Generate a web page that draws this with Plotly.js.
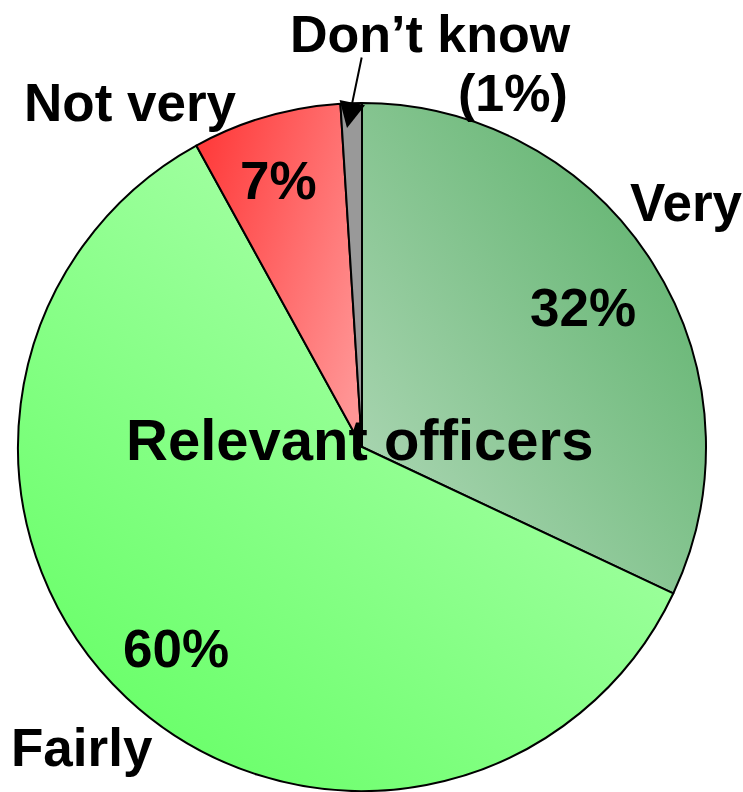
<!DOCTYPE html>
<html>
<head>
<meta charset="utf-8">
<script src="https://cdn.plot.ly/plotly-3.0.1.min.js"></script>
<style>html,body{margin:0;padding:0;background:#fff;}#chart{width:743px;height:792px;}</style>
</head>
<body>
<div id="chart"></div>
<script>
var categories = ["Very", "Fairly", "Not very", "Don\u2019t know"];
var values = [32, 60, 7, 1];
var percentLabels = ["32%", "60%", "7%", "(1%)"];
var centerTitle = "Relevant officers";
var sliceColors = ["#86c490", "#90ff88", "#ff6a6a", "#9a9a9a"];

var W = 743, H = 792;
function px(x){ return x / W; }
function py(y){ return (H - y) / H; }

var FONT = "Liberation Sans, Arial, sans-serif";
var bold = function(size){ return {family: FONT, size: size, color: "#000", weight: 700}; };

var trace = {
  type: "pie",
  labels: categories,
  values: values,
  sort: false,
  direction: "clockwise",
  rotation: 0,
  textinfo: "none",
  hoverinfo: "label+percent",
  marker: {colors: sliceColors, line: {color: "#000", width: 2}},
  domain: {x: [px(18), px(706)], y: [py(791), py(103)]},
  showlegend: false
};

var annotations = [
  {x: px(686), y: py(203), text: "<b>" + categories[0] + "</b>"},
  {x: px(82), y: py(747), text: "<b>" + categories[1] + "</b>"},
  {x: px(130), y: py(102), text: "<b>" + categories[2] + "</b>"},
  {x: px(430), y: py(34), text: "<b>" + categories[3] + "</b>", font: bold(52)},
  {x: px(583), y: py(308), text: "<b>" + percentLabels[0] + "</b>"},
  {x: px(176), y: py(648), text: "<b>" + percentLabels[1] + "</b>"},
  {x: px(278), y: py(180), text: "<b>" + percentLabels[2] + "</b>"},
  {x: px(570), y: py(93), xanchor: "right", text: "<b>" + percentLabels[3] + "</b>", font: bold(52)}
].map(function(a){
  return Object.assign({xref: "paper", yref: "paper", showarrow: false, xanchor: "center", yanchor: "middle", font: bold(53)}, a);
});
annotations.push({x: px(359), y: py(439), xref: "paper", yref: "paper", showarrow: false,
  xanchor: "center", yanchor: "middle", text: "<b>" + centerTitle + "</b>", font: bold(58)});
annotations.push({x: px(347), y: py(128), xref: "paper", yref: "paper", showarrow: true,
  text: "", ax: 15, ay: -72, arrowhead: 2, arrowsize: 2.6, arrowwidth: 2, arrowcolor: "#000", standoff: 0});

var layout = {
  width: W, height: H,
  margin: {l: 0, r: 0, t: 0, b: 0},
  paper_bgcolor: "#fff",
  plot_bgcolor: "#fff",
  annotations: annotations
};

Plotly.newPlot("chart", [trace], layout, {displayModeBar: false, staticPlot: true}).then(function(){
  var svg = document.querySelector("#chart .main-svg");
  var defs = svg.querySelector("defs");
  var NS = "http://www.w3.org/2000/svg";
  var grads = [
    {id: "gVery", x1: 0, y1: 1, x2: 1, y2: 0, stops: ["#b4dabb", "#55ae64"]},
    {id: "gFairly", x1: 0, y1: 0.85, x2: 0.7, y2: 0, stops: ["#66ff66", "#b0ffb0"]},
    {id: "gNot", x1: 0, y1: 0.2, x2: 1, y2: 0.8, stops: ["#ff3c3c", "#ff9696"]},
    {id: "gDk", x1: 0, y1: 0, x2: 1, y2: 0, stops: ["#999999", "#999999"]}
  ];
  grads.forEach(function(g){
    var lg = document.createElementNS(NS, "linearGradient");
    lg.setAttribute("id", g.id);
    ["x1","y1","x2","y2"].forEach(function(k){ lg.setAttribute(k, g[k]); });
    g.stops.forEach(function(c, i){
      var s = document.createElementNS(NS, "stop");
      s.setAttribute("offset", i === 0 ? "0" : "1");
      s.setAttribute("stop-color", c);
      lg.appendChild(s);
    });
    defs.appendChild(lg);
  });
  var paths = document.querySelectorAll("#chart .slice path.surface");
  paths.forEach(function(p, i){
    if (grads[i]) p.style.fill = "url(#" + grads[i].id + ")";
  });
});
</script>
</body>
</html>
